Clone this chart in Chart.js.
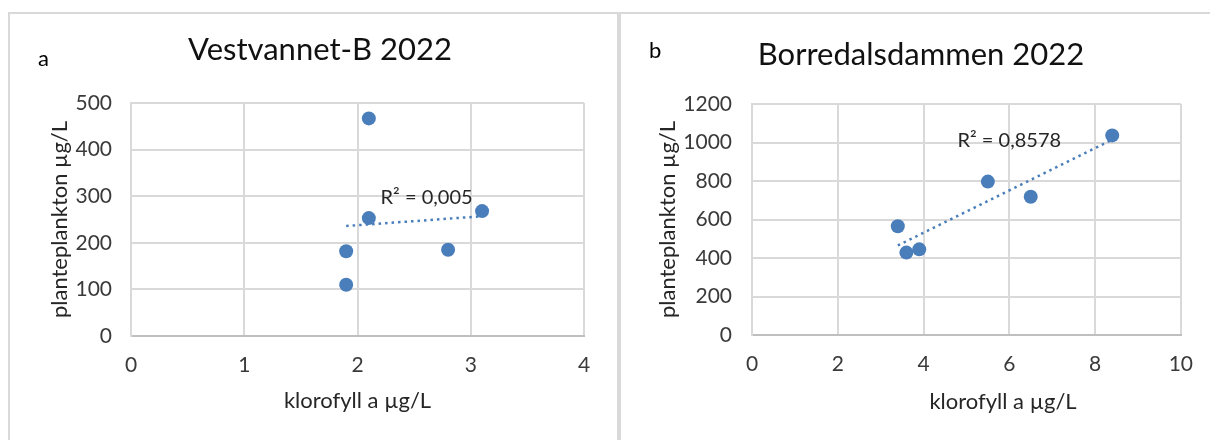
<!DOCTYPE html>
<html><head><meta charset="utf-8">
<script src="https://cdn.jsdelivr.net/npm/chart.js@4"></script>
<style>
html,body{margin:0;padding:0;background:#fff;width:1210px;height:440px;overflow:hidden;}
.frame{position:absolute;box-sizing:border-box;border:2px solid #d9d9d9;border-bottom:none;}
#frameA{left:8px;top:12px;width:611px;height:440px;}
#frameB{left:619px;top:12px;width:600px;height:440px;border-right:none;}
canvas{position:absolute;}
#chartA{left:10px;top:14px;}
#chartB{left:622px;top:14px;}
</style></head>
<body>
<div class="frame" id="frameA"></div>
<div class="frame" id="frameB"></div>
<canvas id="chartA" width="600" height="426"></canvas>
<canvas id="chartB" width="588" height="426"></canvas>
<script>
// ---- data ----
const xTitle = 'klorofyll a µg/L';
const yTitle = 'planteplankton µg/L';

const letterA = 'a';
const titleA = 'Vestvannet-B 2022';
const chlA = [2.1, 2.1, 1.9, 1.9, 2.8, 3.1];
const planktonA = [467, 253, 182, 110, 185, 268];
const trendXA = [1.9, 3.1];
const trendYA = [236, 257];
const r2TextA = 'R² = 0,005';
const r2PosA = [2.61, 297];
const xTicksA = [0, 1, 2, 3, 4];
const yTicksA = [0, 100, 200, 300, 400, 500];

const letterB = 'b';
const titleB = 'Borredalsdammen 2022';
const chlB = [3.4, 3.6, 3.9, 5.5, 6.5, 8.4];
const planktonB = [565, 428, 445, 797, 718, 1037];
const trendXB = [3.4, 8.4];
const trendYB = [465, 1015];
const r2TextB = 'R² = 0,8578';
const r2PosB = [6.0, 1010];
const xTicksB = [0, 2, 4, 6, 8, 10];
const yTicksB = [0, 200, 400, 600, 800, 1000, 1200];

const FONT = 'Lato';
const BLUE = '#4a7ebb';

function zip(xs, ys){ return xs.map((x,i)=>({x:x, y:ys[i]})); }

function makeChart(id, o){
  const decor = {
    id: 'decor',
    afterDraw(chart){
      const ctx = chart.ctx;
      const sx = chart.scales.x, sy = chart.scales.y;
      ctx.save();
      ctx.textBaseline = 'alphabetic';
      ctx.fillStyle = '#000';
      ctx.font = '22px ' + FONT;
      ctx.textAlign = 'left';
      ctx.fillText(o.letter, o.letterXY[0], o.letterXY[1]);
      ctx.font = '31px ' + FONT;
      ctx.textAlign = 'center';
      ctx.fillStyle = '#111';
      ctx.fillText(o.title, o.titleXY[0], o.titleXY[1]);
      ctx.font = '20px ' + FONT;
      ctx.fillStyle = '#262626';
      ctx.textBaseline = 'middle';
      ctx.fillText(o.r2Text, sx.getPixelForValue(o.r2Pos[0]), sy.getPixelForValue(o.r2Pos[1]));
      if (o.customXTitle) {
        ctx.font = '22px ' + FONT;
        ctx.fillStyle = '#262626';
        ctx.fillText(xTitle, o.customXTitle[0], o.customXTitle[1]);
      }
      ctx.restore();
    }
  };
  return new Chart(document.getElementById(id), {
    type: 'scatter',
    data: {
      datasets: [
        { type:'scatter', data: zip(o.xs, o.ys), pointRadius: 7, pointHoverRadius: 7,
          backgroundColor: BLUE, borderColor: BLUE, pointBorderWidth: 0, order: 0 },
        { type:'line', data: zip(o.tx, o.ty), showLine: true, borderColor: BLUE,
          borderWidth: 2.5, borderDash: [2.5, 4], pointRadius: 0, fill: false, order: 1 }
      ]
    },
    options: {
      responsive: false, animation: false,
      layout: { padding: o.pad },
      plugins: { legend: {display:false}, tooltip: {enabled:false}, title: {display:false} },
      scales: {
        x: {
          type: 'linear', min: o.xt[0], max: o.xt[o.xt.length-1],
          afterBuildTicks: s => { s.ticks = o.xt.map(v => ({value: v})); },
          afterFit: s => { s.height = o.xH; },
          grid: { color: '#d9d9d9', lineWidth: 2, drawTicks: false },
          border: { color: '#bfbfbf', width: 2 },
          ticks: { padding: 17, color: '#3a3a3a', font: {family: FONT, size: 21},
                   callback: v => String(v) },
          title: { display: !o.customXTitle, text: xTitle, color: '#262626',
                   font: {family: FONT, size: 22}, padding: {top: 0, bottom: 26} }
        },
        y: {
          type: 'linear', min: o.yt[0], max: o.yt[o.yt.length-1],
          afterBuildTicks: s => { s.ticks = o.yt.map(v => ({value: v})); },
          afterFit: s => { s.width = o.yW; },
          grid: { color: '#d9d9d9', lineWidth: 2, drawTicks: false },
          border: { color: '#d9d9d9', width: 2 },
          ticks: { padding: o.yTickPad, color: '#3a3a3a', font: {family: FONT, size: 21},
                   callback: v => String(v) },
          title: { display: true, text: yTitle, color: '#262626',
                   font: {family: FONT, size: 22}, padding: {top: o.yTitlePad, bottom: 0} }
        }
      }
    },
    plugins: [decor]
  });
}

makeChart('chartA', {
  xs: chlA, ys: planktonA, tx: trendXA, ty: trendYA, xt: xTicksA, yt: yTicksA,
  pad: {left: 0, right: 26, top: 89, bottom: 0}, xH: 104, yW: 121, yTickPad: 19, yTitlePad: 37,
  letter: letterA, letterXY: [28, 52], title: titleA, titleXY: [310, 46],
  r2Text: r2TextA, r2Pos: r2PosA
});
makeChart('chartB', {
  xs: chlB, ys: planktonB, tx: trendXB, ty: trendYB, xt: xTicksB, yt: yTicksB,
  pad: {left: 0, right: 25, top: 90, bottom: 0}, xH: 105, yW: 130, yTickPad: 20, yTitlePad: 33,
  letter: letterB, letterXY: [27, 44], title: titleB, titleXY: [299, 51],
  r2Text: r2TextB, r2Pos: r2PosB, customXTitle: [381, 388]
});
</script>
</body></html>
